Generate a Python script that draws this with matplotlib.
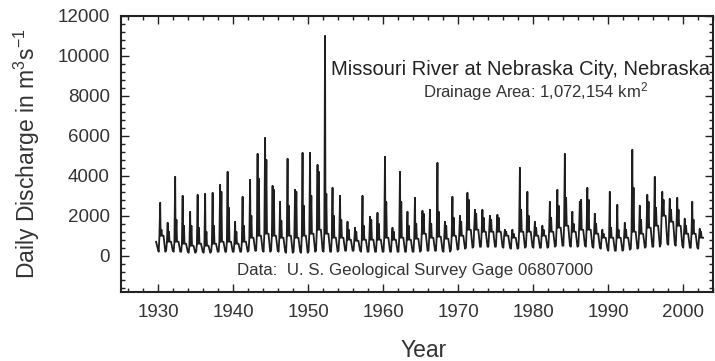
"""
Missouri River at Nebraska City - daily discharge time series
"""
import numpy as np
import matplotlib
matplotlib.use('Agg')
import matplotlib.pyplot as plt
import matplotlib.ticker as ticker

plt.rcParams['font.family'] = ['Liberation Sans', 'DejaVu Sans']
plt.rcParams['mathtext.fontset'] = 'custom'
plt.rcParams['mathtext.rm'] = 'Liberation Sans'
plt.rcParams['mathtext.it'] = 'Liberation Sans:italic'

# water years (1929 is a partial first year)
years = list(range(1929, 2003))
# main spring spike, second spike, summer level, winter trough (m3/s)
peak1 = [900, 2650, 1650, 3950, 3000, 2200, 3050, 3100, 3150, 3550,
         4200, 1700, 2950, 3800, 5100, 5900, 3500, 2700, 4850, 3300,
         5150, 5150, 4550, 11000, 3400, 3000, 1700, 1400, 3000, 1950,
         2150, 4950, 1400, 4200, 2200, 2900, 2250, 2300, 4650, 1700,
         2950, 2000, 3150, 2300, 2300, 2000, 2050, 1300, 1300, 4400,
         3200, 1700, 1500, 2700, 3300, 5100, 2200, 2700, 3400, 2100,
         1300, 3200, 2550, 1650, 5300, 2500, 3050, 3950, 3200, 2850,
         2900, 1850, 2700, 1350]
peak2 = [800, 1300, 1200, 1800, 1500, 1500, 1400, 1200, 1500, 3200,
         2400, 1200, 1500, 2000, 3850, 4800, 3300, 1750, 2500, 3200,
         2500, 3000, 4200, 3100, 2000, 1800, 1300, 1200, 1500, 1800,
         1600, 2700, 1200, 2700, 1500, 1600, 2100, 1600, 2200, 1500,
         1900, 1700, 2800, 2100, 1900, 1800, 1900, 1200, 1100, 2300,
         2000, 1400, 1300, 1900, 2500, 2900, 1600, 2800, 2800, 1600,
         1100, 1400, 1300, 1300, 3400, 1800, 2700, 2400, 2800, 2300,
         2300, 1500, 1800, 1200]
base = [700, 1000, 700, 700, 600, 500, 600, 500, 600, 700,
        700, 600, 700, 900, 1000, 1100, 1000, 900, 1000, 900,
        1000, 1100, 1300, 1100, 900, 900, 800, 750, 800, 800,
        800, 900, 800, 900, 800, 850, 1100, 900, 950, 850,
        1000, 1000, 1300, 1300, 1200, 1200, 1200, 1000, 900, 1200,
        1200, 1000, 1000, 1200, 1400, 1500, 1200, 1300, 1300, 1100,
        900, 900, 900, 900, 1200, 1100, 1400, 1500, 2000, 1700,
        1500, 1100, 1100, 900]
low = [350, 200, 250, 200, 200, 150, 200, 150, 200, 200,
       200, 200, 200, 250, 250, 200, 250, 200, 150, 200,
       150, 200, 250, 200, 200, 250, 250, 250, 200, 200,
       200, 200, 200, 200, 200, 200, 250, 250, 250, 200,
       300, 350, 400, 450, 450, 450, 450, 400, 350, 400,
       450, 400, 400, 450, 500, 500, 450, 500, 450, 400,
       350, 250, 250, 300, 350, 400, 450, 450, 600, 550,
       500, 400, 400, 350]

record_start, record_end = 1929.6, 2002.85
x_ticks = [1930, 1940, 1950, 1960, 1970, 1980, 1990, 2000]
y_ticks = [0, 2000, 4000, 6000, 8000, 10000, 12000]

# sample each water year at a few points of its seasonal cycle
season_pos = [0.05, 0.15, 0.25, 0.31, 0.42, 0.50, 0.70, 0.93]
t_list, q_list = [], []
for i, yr in enumerate(years):
    vals = [low[i], base[i], peak1[i], base[i], peak2[i], base[i], base[i], low[i]]
    for s, v in zip(season_pos, vals):
        t_list.append(yr + s)
        q_list.append(v)
t = np.array(t_list)
q = np.array(q_list)
keep = (t >= record_start) & (t <= record_end)
t, q = t[keep], q[keep]

fig = plt.figure(figsize=(7.15, 3.61), dpi=100)
ax = fig.add_axes([0.169, 0.192, 0.828, 0.764])

ax.plot(t, q, color='#1e1e1e', linewidth=1.3)

ax.set_xlim(1925, 2004)
ax.set_ylim(-1800, 12000)
ax.set_xticks(x_ticks)
ax.set_yticks(y_ticks)
ax.xaxis.set_minor_locator(ticker.MultipleLocator(2))
ax.yaxis.set_minor_locator(ticker.MultipleLocator(400))

for sp in ax.spines.values():
    sp.set_linewidth(1.5)
    sp.set_color('#222222')
ax.tick_params(which='both', direction='in', top=True, right=True,
               colors='#222222', labelcolor='#333333', width=1.0)
ax.tick_params(which='major', length=6, labelsize=13.5)
ax.tick_params(axis='x', which='major', pad=9)
ax.tick_params(axis='y', which='major', pad=8)
ax.tick_params(which='minor', length=3)

ax.text(0.995, 0.786, 'Missouri River at Nebraska City, Nebraska',
        transform=ax.transAxes, ha='right', va='baseline', fontsize=14.5, color='#222222')
ax.text(0.700, 0.706, r'Drainage Area: 1,072,154 km$^2$',
        transform=ax.transAxes, ha='center', va='baseline', fontsize=12, color='#333333')
ax.text(0.497, 0.061, 'Data:  U. S. Geological Survey Gage 06807000',
        transform=ax.transAxes, ha='center', va='baseline', fontsize=12.2, color='#333333')

fig.text(0.038, 0.575, r'Daily Discharge in m$^3$s$^{-1}$', rotation=90,
         ha='center', va='center', fontsize=16.5, color='#333333')
fig.text(0.592, 0.012, 'Year', ha='center', va='baseline', fontsize=16.5, color='#333333')

fig.savefig('out.png', dpi=100)
